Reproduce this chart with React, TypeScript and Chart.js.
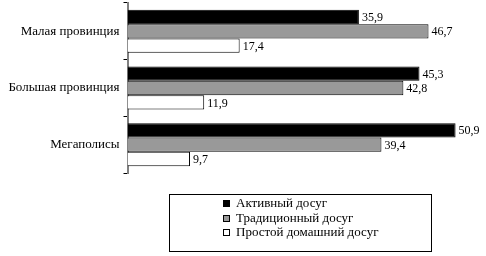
import React, { useEffect, useRef } from 'react';
import { Chart, registerables } from 'chart.js';

Chart.register(...registerables);

const categories = ['Малая провинция', 'Большая провинция', 'Мегаполисы'];
const seriesLabels = ['Активный досуг', 'Традиционный досуг', 'Простой домашний досуг'];
const activeLeisure = [35.9, 45.3, 50.9];
const traditionalLeisure = [46.7, 42.8, 39.4];
const homeLeisure = [17.4, 11.9, 9.7];

const FONT = '"Liberation Serif", "Times New Roman", serif';

const valueLabels = {
  id: 'valueLabels',
  afterDatasetsDraw(chart: any) {
    const ctx = chart.ctx;
    ctx.save();
    ctx.font = `12px ${FONT}`;
    ctx.fillStyle = '#000';
    ctx.textAlign = 'left';
    ctx.textBaseline = 'middle';
    chart.data.datasets.forEach((ds: any, i: number) => {
      const meta = chart.getDatasetMeta(i);
      meta.data.forEach((el: any, j: number) => {
        const v = ds.data[j];
        ctx.fillText(String(v).replace('.', ','), el.x + 3, el.y + 1);
      });
    });
    ctx.restore();
  },
};

const boxLegend = {
  id: 'boxLegend',
  afterDraw(chart: any) {
    const ctx = chart.ctx;
    ctx.save();
    const bx = 169.5, by = 194.5, bw = 262, bh = 57;
    ctx.strokeStyle = '#000';
    ctx.lineWidth = 1;
    ctx.strokeRect(bx, by, bw, bh);
    ctx.font = `13px ${FONT}`;
    ctx.textBaseline = 'middle';
    ctx.textAlign = 'left';
    const rows = [203, 218, 232];
    chart.data.datasets.forEach((ds: any, i: number) => {
      const y = rows[i];
      ctx.fillStyle = ds.backgroundColor;
      ctx.fillRect(223, y - 3, 7, 7);
      ctx.strokeStyle = '#000';
      ctx.strokeRect(223.5, y - 2.5, 6, 6);
      ctx.fillStyle = '#000';
      ctx.fillText(ds.label, 236, y + 1);
    });
    ctx.restore();
  },
};

export default function App() {
  const ref = useRef<HTMLCanvasElement>(null);
  useEffect(() => {
    if (!ref.current) return;
    const chart = new Chart(ref.current, {
      type: 'bar',
      data: {
        labels: categories,
        datasets: [
          { label: seriesLabels[0], data: activeLeisure, backgroundColor: '#000000', borderColor: '#000', borderWidth: 1 },
          { label: seriesLabels[1], data: traditionalLeisure, backgroundColor: '#999999', borderColor: '#000', borderWidth: 1 },
          { label: seriesLabels[2], data: homeLeisure, backgroundColor: '#ffffff', borderColor: '#000', borderWidth: 1 },
        ],
      },
      options: {
        indexAxis: 'y',
        responsive: false,
        animation: false,
        devicePixelRatio: 1,
        categoryPercentage: 0.76,
        barPercentage: 1,
        layout: { padding: { top: 3, bottom: 83, right: 4, left: 0 } },
        plugins: { legend: { display: false }, tooltip: { enabled: false } },
        scales: {
          x: { display: false, min: 0, max: 55 },
          y: {
            grid: { drawOnChartArea: false, drawTicks: true, tickLength: 4, color: '#000', offset: true },
            border: { display: true, color: '#808080', width: 2 },
            ticks: { color: '#000', font: { family: FONT, size: 13 }, padding: 4 },
            afterFit: (s: any) => { s.width = 127.5; s.paddingTop = 0; s.paddingBottom = 0; },
          },
        },
      } as any,
      plugins: [valueLabels, boxLegend],
    });
    return () => chart.destroy();
  }, []);
  return (
    <div style={{ position: 'fixed', left: 0, top: 0, width: 486, height: 256, background: '#fff' }}>
      <canvas ref={ref} width={486} height={256} />
    </div>
  );
}
